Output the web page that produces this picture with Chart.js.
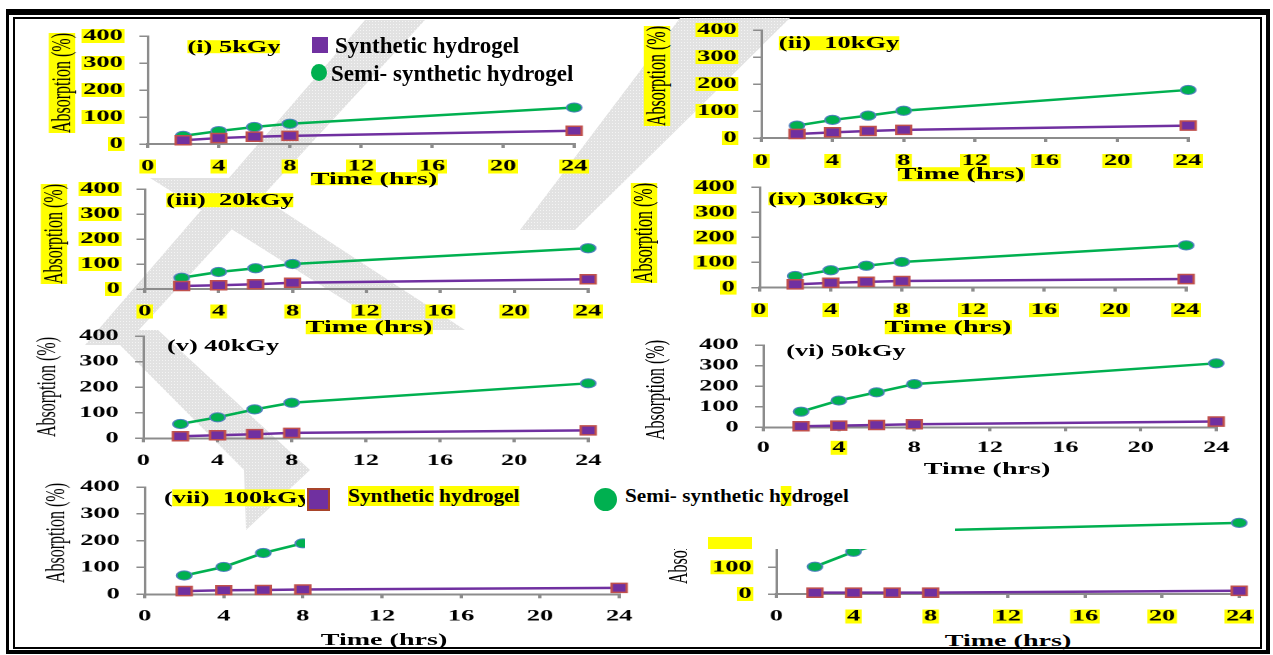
<!DOCTYPE html>
<html>
<head>
<meta charset="utf-8">
<script src="https://cdn.jsdelivr.net/npm/chart.js@4.4.1/dist/chart.umd.min.js"></script>
<style>
html, body { margin: 0; padding: 0; background: #fff; }
#page { position: relative; width: 1273px; height: 655px; overflow: hidden; font-family: 'Liberation Serif', 'Times New Roman', serif; }
.frame { position: absolute; box-sizing: border-box; border: solid #000; }
canvas { position: absolute; }
.txt { position: absolute; white-space: pre; line-height: 1; font-weight: bold; color: #000; }
.hl { background: #ffff00; }
.box { position: absolute; }
</style>
</head>
<body>
<div id="page">
  <div class="frame" style="left:6px;top:9px;width:1264px;height:645px;border-width:6px 4px 4px 3px;"></div>
  <div class="frame" style="left:13px;top:17px;width:1249px;height:632px;border-width:2px;"></div>
  <!-- faint watermark behind the panels -->
  <svg style="position:absolute;left:0;top:0" width="1273" height="655">
    <defs>
      <pattern id="dots" width="3" height="3" patternUnits="userSpaceOnUse">
        <rect width="3" height="3" fill="#e2e2e2"/>
        <rect width="1" height="1" fill="#f4f4f4"/>
      </pattern>
    </defs>
    <g fill="url(#dots)">
      <polygon points="85,345 125,345 425,20 365,20"/>
      <polygon points="150,178 232,178 465,330 392,330"/>
      <polygon points="105,330 158,330 310,470 246,530 244,470"/>
      <polygon points="680,18 790,18 575,230 520,230"/>
    </g>
  </svg>
</div>
<script>
// data (absorption % at each time)
const hours = [2, 4, 6, 8, 24];
const xTicks = [0, 4, 8, 12, 16, 20, 24];
const yTicks = [0, 100, 200, 300, 400];
const doses = ['(i) 5kGy', '(ii)  10kGy', '(iii)  20kGy', '(iv) 30kGy', '(v) 40kGy', '(vi) 50kGy', '(vii)  100kGy', ''];

const syn5 = [14, 22, 27, 30, 49];
const semi5 = [30, 48, 63, 75, 135];
const syn10 = [15, 21, 26, 30, 46];
const semi10 = [46, 67, 83, 101, 178];
const syn20 = [12, 15, 19, 25, 39];
const semi20 = [45, 68, 83, 100, 163];
const syn30 = [13, 19, 23, 26, 34];
const semi30 = [46, 69, 87, 102, 168];
const syn40 = [8, 12, 16, 21, 31];
const semi40 = [56, 82, 113, 139, 215];
const syn50 = [5, 8, 11, 15, 28];
const semi50 = [76, 130, 170, 210, 311];
const syn100 = [12, 15, 16, 18, 24];
const semi100 = [70, 102, 154, 190, null];
const synLast = [5, 5, 5, 5, 12];
const semiLast = [102, 158, 200, 238, 266];

const synSeries = [syn5, syn10, syn20, syn30, syn40, syn50, syn100, synLast];
const semiSeries = [semi5, semi10, semi20, semi30, semi40, semi50, semi100, semiLast];

// where each panel sits on the page
const layout = [
  {x0: 148, x24: 574, y400: 35.5, y0: 143.5, xPad: 12.5, hl: true},
  {x0: 761, x24: 1188, y400: 29.5, y0: 137.5, xPad: 13, hl: true},
  {x0: 145, x24: 588, y400: 189, y0: 289, xPad: 12.5, hl: true},
  {x0: 760, x24: 1186, y400: 186.7, y0: 287.3, xPad: 12.5, hl: true},
  {x0: 143, x24: 588, y400: 336, y0: 438.3, xPad: 12.5, hl: false},
  {x0: 763, x24: 1216, y400: 345, y0: 427.3, xPad: 10.5, hl: false, xHl: [4]},
  {x0: 145, x24: 619, y400: 486.7, y0: 594, xPad: 12, hl: false},
  {x0: 776, x24: 1239, y400: 487, y0: 594, xPad: 12.5, hl: true, xHl: [4, 8, 12, 16, 20, 24]}
];
const doseLabels = [
  {x: 233.5, y: 46.5, hl: true}, {x: 838.5, y: 43, hl: true}, {x: 229.5, y: 200, hl: true},
  {x: 827.5, y: 198.5, hl: true}, {x: 222.5, y: 346}, {x: 845.5, y: 351}, {x: 164, y: 498, part: true}, null
];
const yTitles = [
  {x: 61.5, y: 83, hl: true}, {x: 657, y: 76, hl: true}, {x: 53.5, y: 234, hl: true}, {x: 644, y: 233, hl: true},
  {x: 46.5, y: 387}, {x: 656, y: 390}, {x: 55.5, y: 533}, {x: 679, y: 534}
];
const xTitles = [
  {x: 374, y: 178.5, hl: true}, {x: 961, y: 174, hl: true}, {x: 369, y: 327, hl: true}, {x: 948, y: 327, hl: true},
  null, {x: 987, y: 469}, {x: 384, y: 640}, {x: 1008, y: 641}
];

const S = 1.65;     // the figure is stretched sideways
const ML = 50, PR = 12, PT = 10, XH = 34;
const YELLOW = '#ffff00';
const page = document.getElementById('page');
Chart.defaults.font.family = "'Liberation Serif', 'Times New Roman', serif";

function addText(html, x, y, size, opts) {
  const d = document.createElement('div');
  d.className = 'txt';
  d.innerHTML = html;
  d.style.fontSize = size + 'px';
  d.style.left = x + 'px';
  d.style.top = y + 'px';
  let t = opts.left ? 'translate(0,-50%)' : 'translate(-50%,-50%)';
  if (opts.left) d.style.transformOrigin = 'left center';
  if (opts.sx) t += ' scaleX(' + opts.sx + ')';
  if (opts.rot) t += ' rotate(-90deg)';
  d.style.transform = t;
  if (opts.weight) d.style.fontWeight = opts.weight;
  if (opts.lh) d.style.lineHeight = opts.lh;
  if (opts.hl) d.classList.add('hl');
  page.appendChild(d);
  return d;
}

function addBox(x, y, w, h, css) {
  const d = document.createElement('div');
  d.className = 'box';
  d.style.left = x + 'px'; d.style.top = y + 'px';
  d.style.width = w + 'px'; d.style.height = h + 'px';
  Object.assign(d.style, css);
  page.appendChild(d);
}

function backdrop(list) {
  return ctx => (list === true || (Array.isArray(list) && list.includes(ctx.tick.value))) ? YELLOW : 'rgba(0,0,0,0)';
}

function makePanel(i) {
  const p = layout[i];
  const plotW = Math.round((p.x24 - p.x0) / S);
  const sx = (p.x24 - p.x0) / plotW;
  const lw = ML + plotW + PR;
  const plotH = p.y0 - p.y400;
  const lh = Math.ceil(PT + plotH + XH);
  const xh = lh - PT - plotH;

  const cv = document.createElement('canvas');
  cv.width = lw;
  cv.height = lh;
  cv.style.left = (p.x0 - ML * sx) + 'px';
  cv.style.top = (p.y400 - PT) + 'px';
  cv.style.width = (lw * sx) + 'px';
  cv.style.height = lh + 'px';
  page.appendChild(cv);

  const tickFont = {size: 16, weight: 'bold', lineHeight: 0.75};
  new Chart(cv, {
    type: 'line',
    data: {
      datasets: [{
        label: 'Synthetic hydrogel',
        data: hours.map((h, k) => ({x: h, y: synSeries[i][k]})),
        borderColor: '#7030a0',
        backgroundColor: '#7030a0',
        pointStyle: 'rect',
        pointRadius: 6.4,
        pointBorderColor: '#c0504d',
        pointBorderWidth: 1.5,
        borderWidth: 2.5,
        clip: false
      }, {
        label: 'Semi- synthetic hydrogel',
        data: hours.map((h, k) => ({x: h, y: semiSeries[i][k]})),
        borderColor: '#00b050',
        backgroundColor: '#00b050',
        pointStyle: 'circle',
        pointRadius: 4.6,
        pointBorderColor: '#4f81bd',
        pointBorderWidth: 1,
        borderWidth: 2.5,
        clip: false
      }]
    },
    options: {
      responsive: false,
      animation: false,
      devicePixelRatio: 2,
      layout: {padding: {left: 0, right: PR, top: PT, bottom: 0}},
      plugins: {legend: {display: false}, tooltip: {enabled: false}},
      scales: {
        x: {
          type: 'linear', min: 0, max: 24,
          afterBuildTicks: s => { s.ticks = xTicks.map(v => ({value: v})); },
          afterFit: s => { s.height = xh; s.paddingLeft = 0; s.paddingRight = 0; },
          grid: {drawOnChartArea: false, tickLength: 4, color: '#8c8c8c', lineWidth: 2},
          border: {color: '#8c8c8c', width: 2},
          ticks: {
            font: tickFont, color: '#000', padding: p.xPad, maxRotation: 0, autoSkip: false,
            showLabelBackdrop: true, backdropColor: backdrop(p.xHl || p.hl),
            backdropPadding: {left: 1, right: 1, top: 1, bottom: 1}
          }
        },
        y: {
          min: 0, max: 400,
          afterBuildTicks: s => { s.ticks = yTicks.map(v => ({value: v})); },
          afterFit: s => { s.width = ML; s.paddingTop = 0; s.paddingBottom = 0; },
          grid: {drawOnChartArea: false, tickLength: 5, color: '#8c8c8c', lineWidth: 1.5},
          border: {color: '#8c8c8c', width: 1.5},
          ticks: {
            font: tickFont, color: '#000', padding: 10,
            showLabelBackdrop: true, backdropColor: backdrop(p.hl),
            backdropPadding: {left: 1, right: 1, top: 1, bottom: 1}
          }
        }
      }
    }
  });

  const yt = yTitles[i];
  addText('Absorption (%)', yt.x, yt.y, 16, {sx: S, rot: true, weight: 'normal', hl: yt.hl});
  const xt = xTitles[i];
  if (xt) addText('Time (hrs)', xt.x, xt.y, 17, {sx: S, hl: xt.hl, lh: 0.8});
  const dl = doseLabels[i];
  if (dl && dl.part) {
    addText('(<span class="hl">' + doses[i].slice(1) + '</span>', dl.x, dl.y, 16, {sx: S, left: true, lh: 0.85});
  } else if (dl) {
    addText(doses[i], dl.x, dl.y, 16, {sx: S, hl: dl.hl, lh: 0.85});
  }
}

for (let i = 0; i < layout.length; i++) makePanel(i);

// legend of the first panel
addBox(312, 37, 16, 16, {background: '#7030a0'});
addText('Synthetic hydrogel', 335, 45, 23, {left: true});
addBox(311, 64, 16, 17, {background: '#00b050', borderRadius: '50%'});
addText('Semi- synthetic hydrogel', 331, 72.5, 23, {left: true});

// white legend box laid over panels (vii) and the last one
addBox(305, 478, 650, 71, {background: '#fff'});
addBox(306.5, 488, 23, 23, {background: '#7030a0', border: '2px solid #a8442a', boxSizing: 'border-box'});
addText('<span class="hl">Synthetic</span> <span class="hl">hydrogel</span>', 348, 496, 18, {left: true, sx: 1.19});
addBox(593.5, 488, 23, 23, {background: '#00b050', borderRadius: '50%'});
addText('Semi- synthetic h<span class="hl">y</span>drogel', 625, 496, 18, {left: true, sx: 1.18});
addBox(708, 536.5, 44, 12.5, {background: YELLOW});
</script>
</body>
</html>
